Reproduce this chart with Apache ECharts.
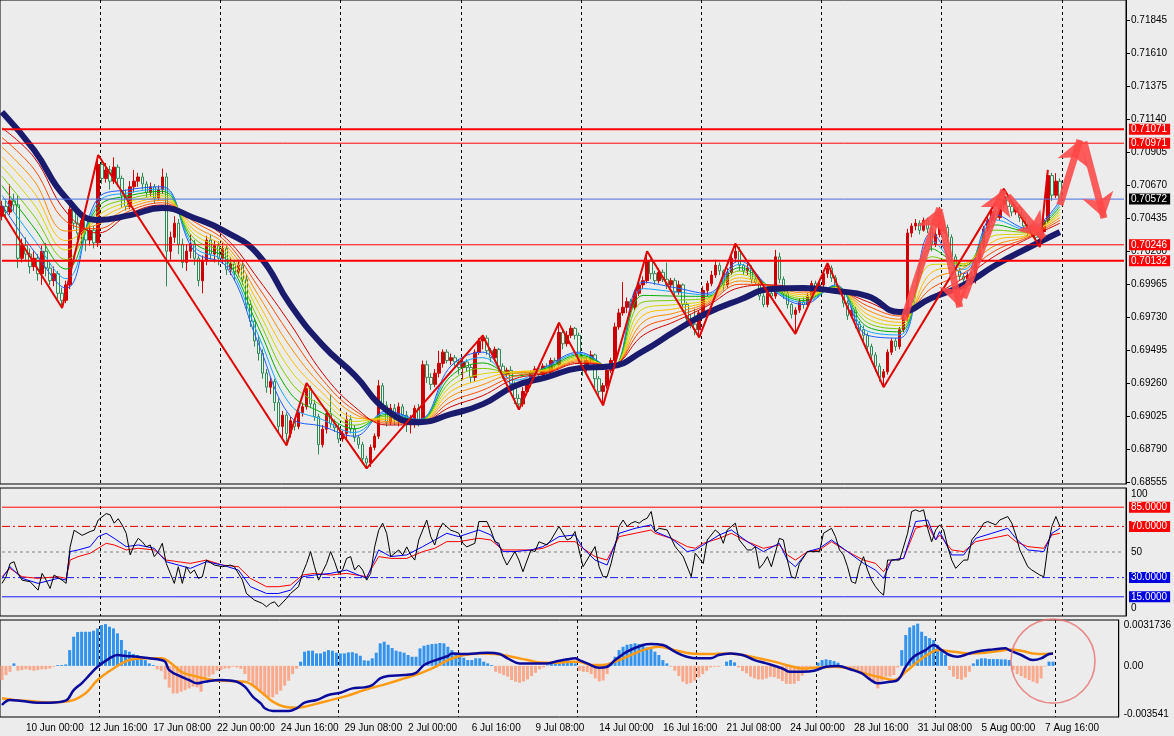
<!DOCTYPE html>
<html>
<head>
<meta charset="utf-8">
<script src="https://cdn.jsdelivr.net/npm/echarts@6.0.0/dist/echarts.min.js"></script>
</head>
<body style="margin:0;background:#ececec">
<div id="container" style="width:1174px;height:736px"></div>
<script>
// prices in points (1 point = 0.00001), candle rows are [open, close, low, high]
var candles = [
[70450,70520,70420,70560],[70520,70480,70440,70570],[70480,70560,70460,70680],[70560,70530,70490,70610],
[70530,70150,70080,70600],[70150,70240,70120,70290],[70240,70180,70130,70300],[70180,70090,70040,70220],
[70090,70150,70060,70200],[70150,70040,69990,70180],[70040,70200,69960,70240],[70200,70080,70020,70260],
[70080,69990,69960,70120],[69990,70040,69950,70090],[70040,69900,69860,70060],[69900,69850,69795,69940],
[69850,69960,69830,69990],[69960,70500,69930,70540],[70500,70400,70360,70540],[70400,70330,70280,70450],
[70330,70420,70250,70460],[70420,70280,70200,70440],[70280,70350,70240,70390],[70350,70260,70220,70380],
[70260,70820,70230,70887],[70820,70720,70680,70860],[70720,70780,70690,70830],[70780,70700,70640,70810],
[70700,70800,70680,70870],[70800,70720,70660,70820],[70720,70600,70510,70740],[70600,70520,70490,70640],
[70520,70660,70500,70700],[70660,70700,70620,70780],[70700,70730,70660,70760],[70730,70680,70640,70760],
[70680,70620,70580,70700],[70620,70660,70590,70690],[70660,70580,70540,70680],[70580,70640,70560,70670],
[70640,70730,70610,70790],[70730,70200,69950,70760],[70200,70300,70140,70340],[70300,70400,70260,70450],
[70400,70250,70180,70430],[70250,70120,70080,70290],[70120,70200,70060,70250],[70200,70250,70150,70320],
[70250,70150,70100,70280],[70150,69990,69950,70170],[69990,70130,69900,70170],[70130,70280,70100,70310],
[70280,70180,70140,70320],[70180,70240,70120,70280],[70240,70150,70100,70270],[70150,70220,70110,70260],
[70220,70070,70030,70240],[70070,70110,70030,70160],[70110,70050,69990,70140],[70050,70100,70020,70140],
[70100,70000,69960,70130],[70000,69820,69780,70030],[69820,69700,69660,69850],[69700,69560,69520,69720],
[69560,69470,69420,69600],[69470,69330,69290,69500],[69330,69230,69190,69360],[69230,69270,69180,69300],
[69270,69120,69060,69290],[69120,68950,68900,69150],[68950,69030,68860,69060],[69030,68900,68815,69050],
[68900,68990,68870,69020],[68990,68950,68920,69010],[68950,69050,68930,69070],[69050,69090,69020,69120],
[69090,69220,69070,69260],[69220,69110,69080,69240],[69110,69020,68990,69140],[69020,68820,68750,69040],
[68820,68930,68800,68960],[68930,69040,68900,69070],[69040,68970,68940,69180],[68970,68940,68910,69000],
[68940,68860,68830,68970],[68860,68900,68840,68920],[68900,69000,68850,69050],[69000,68930,68900,69030],
[68930,68870,68840,68960],[68870,68820,68790,68890],[68820,68720,68680,68840],[68720,68690,68650,68740],
[68690,68800,68660,68820],[68800,68880,68780,68900],[68880,69240,68860,69280],[69240,69100,69070,69260],
[69100,68980,68950,69130],[68980,69080,68960,69110],[69080,69000,68960,69110],[69000,69090,68950,69120],
[69090,69030,68990,69110],[69030,68960,68910,69060],[68960,68990,68900,69030],[68990,69080,68940,69100],
[69080,69000,68950,69110],[69000,69390,68960,69420],[69390,69300,69260,69420],[69300,69250,69210,69330],
[69250,69330,69230,69360],[69330,69400,69300,69490],[69400,69480,69370,69500],[69480,69420,69400,69500],
[69420,69440,69390,69470],[69440,69410,69380,69460],[69410,69370,69320,69430],[69370,69410,69280,69440],
[69410,69370,69340,69430],[69370,69300,69260,69390],[69300,69480,69270,69500],[69480,69560,69460,69580],
[69560,69580,69500,69600],[69580,69490,69460,69600],[69490,69440,69410,69510],[69440,69500,69420,69520],
[69500,69380,69340,69510],[69380,69320,69290,69400],[69320,69350,69300,69370],[69350,69250,69220,69380],
[69250,69150,69110,69270],[69150,69110,69070,69180],[69110,69200,69090,69230],[69200,69260,69170,69290],
[69260,69330,69230,69350],[69330,69360,69310,69380],[69360,69320,69300,69380],[69320,69380,69300,69400],
[69380,69340,69310,69400],[69340,69420,69320,69440],[69420,69390,69360,69440],[69390,69620,69370,69690],
[69620,69540,69500,69640],[69540,69600,69520,69630],[69600,69650,69580,69670],[69650,69600,69570,69660],
[69600,69440,69400,69620],[69440,69360,69310,69460],[69360,69420,69340,69450],[69420,69460,69400,69490],
[69460,69290,69220,69470],[69290,69200,69170,69310],[69200,69240,69100,69260],[69240,69350,69220,69380],
[69350,69420,69330,69440],[69420,69660,69380,69690],[69660,69760,69640,69790],[69760,69800,69740,69980],
[69800,69840,69760,69870],[69840,69800,69780,69860],[69800,69900,69780,69920],[69900,69960,69880,69990],
[69960,69990,69930,70020],[69990,70130,69970,70200],[70130,70040,70000,70150],[70040,69990,69960,70060],
[69990,70050,69970,70080],[70050,70000,69980,70070],[70000,69960,69930,70120],[69960,69990,69940,70010],
[69990,69910,69880,70010],[69910,69960,69890,69990],[69960,69820,69780,69970],[69820,69720,69690,69840],
[69720,69680,69650,69750],[69680,69640,69600,69790],[69640,69760,69585,69780],[69760,69920,69740,69950],
[69920,69970,69880,69990],[69970,70030,69950,70060],[70030,70100,70010,70140],[70100,70060,70030,70120],
[70060,69960,69920,70070],[69960,70050,69940,70080],[70050,70150,70030,70170],[70150,70200,70120,70255],
[70200,70100,70060,70230],[70100,70060,70030,70110],[70060,70080,70030,70110],[70080,70000,69970,70100],
[70000,69980,69960,70020],[69980,69880,69850,70000],[69880,69820,69800,69900],[69820,69900,69800,69920],
[69900,69880,69860,69920],[69880,70160,69860,70210],[70160,70000,69970,70190],[70000,69900,69860,70020],
[69900,69820,69790,69920],[69820,69750,69720,69830],[69750,69780,69610,69800],[69780,69840,69760,69860],
[69840,69820,69790,69870],[69820,69880,69800,69900],[69880,69970,69860,69990],[69970,69930,69900,69990],
[69930,69960,69920,69980],[69960,70040,69940,70060],[70040,70080,70010,70115],[70080,70010,69980,70100],
[70010,69930,69900,70030],[69930,69910,69890,69950],[69910,69830,69800,69930],[69830,69740,69710,69850],
[69740,69780,69720,69800],[69780,69680,69650,69800],[69680,69640,69610,69700],[69640,69600,69560,69670],
[69600,69520,69480,69620],[69520,69460,69430,69540],[69460,69380,69340,69480],[69380,69300,69270,69400],
[69300,69340,69230,69360],[69340,69480,69320,69500],[69480,69560,69460,69580],[69560,69520,69490,69580],
[69520,69640,69500,69660],[69640,69730,69620,69760],[69730,70330,69700,70360],[70330,70380,70300,70400],
[70380,70400,70350,70430],[70400,70350,70320,70420],[70350,70420,70340,70440],[70420,70360,70330,70440],
[70360,70250,70200,70380],[70250,70320,70230,70350],[70320,70420,70300,70515],[70420,70370,70340,70450],
[70370,70300,70270,70390],[70300,70160,70130,70320],[70160,70060,70030,70180],[70060,70020,69990,70080],
[70020,70000,69980,70040],[70000,70030,69990,70050],[70030,69990,69960,70050],[69990,70140,69970,70160],
[70140,70240,70120,70260],[70240,70360,70220,70380],[70360,70420,70340,70450],[70420,70480,70400,70500],
[70480,70440,70420,70500],[70440,70530,70420,70560],[70530,70590,70510,70645],[70590,70520,70490,70610],
[70520,70480,70450,70540],[70480,70510,70460,70530],[70510,70440,70410,70530],[70440,70380,70350,70460],
[70380,70340,70310,70400],[70340,70360,70310,70380],[70360,70300,70270,70380],[70300,70340,70230,70360],
[70340,70420,70320,70440],[70420,70740,70400,70780],[70740,70600,70560,70760],[70600,70700,70580,70757],
[70700,70572,70550,70720]
];

// moving-average ribbon read every 8 bars: [bar, fastest ... slowest]
var ribbon = [
[0,70530,70599,70668,70736,70805,70874,70943,71011,71080],
[8,70200,70284,70368,70451,70535,70619,70703,70786,70870],
[16,69937,70005,70073,70141,70209,70276,70344,70412,70480],
[24,70580,70549,70518,70486,70455,70424,70393,70361,70330],
[32,70640,70619,70598,70576,70555,70534,70513,70491,70470],
[40,70660,70644,70628,70611,70595,70579,70563,70546,70530],
[48,70200,70230,70260,70290,70320,70350,70380,70410,70440],
[56,70090,70115,70140,70165,70190,70215,70240,70265,70290],
[64,69540,69598,69655,69713,69770,69828,69885,69943,70000],
[72,69020,69103,69185,69268,69350,69433,69515,69598,69680],
[80,68950,68998,69045,69093,69140,69188,69235,69283,69330],
[88,68880,68906,68933,68959,68985,69011,69038,69064,69090],
[96,69060,69048,69035,69023,69010,68998,68985,68973,68960],
[104,69000,68996,68993,68989,68985,68981,68978,68974,68970],
[112,69380,69344,69308,69271,69235,69199,69163,69126,69090],
[120,69480,69441,69403,69364,69325,69286,69248,69209,69170],
[128,69250,69280,69310,69330,69340,69340,69330,69310,69290],
[136,69380,69374,69368,69361,69355,69349,69343,69336,69330],
[144,69480,69470,69460,69450,69440,69430,69420,69410,69400],
[152,69360,69364,69368,69371,69375,69379,69383,69386,69390],
[160,69980,69933,69885,69838,69790,69743,69695,69648,69600],
[168,69940,69910,69880,69850,69820,69790,69760,69730,69700],
[176,69900,69889,69878,69866,69855,69844,69833,69821,69810],
[184,70130,70106,70083,70059,70035,70011,69988,69964,69940],
[192,69930,69934,69938,69941,69945,69949,69953,69956,69960],
[200,69820,69834,69848,69861,69875,69889,69903,69916,69930],
[208,69960,69955,69950,69945,69940,69935,69930,69925,69920],
[216,69600,69630,69660,69690,69720,69750,69780,69810,69840],
[224,69580,69603,69625,69648,69670,69693,69715,69738,69760],
[232,70330,70274,70218,70161,70105,70049,69993,69936,69880],
[240,70040,70070,70095,70110,70110,70100,70080,70045,70010],
[248,70460,70424,70388,70351,70315,70279,70243,70206,70170],
[256,70360,70351,70343,70334,70325,70316,70308,70299,70290],
[264,70560,70540,70520,70500,70480,70460,70440,70420,70400]
];

var slowMA = [[0,71194],[8,70922],[16,70580],[24,70423],[32,70458],[40,70508],[48,70437],[56,70337],
[64,70173],[72,69816],[80,69530],[88,69316],[96,69066],[104,68980],[112,69037],[120,69109],[128,69238],
[136,69302],[144,69366],[152,69380],[160,69488],[168,69630],[176,69759],[184,69852],[192,69930],
[200,69937],[208,69916],[216,69880],[224,69766],[232,69866],[240,69959],[248,70102],[256,70223],[264,70337]];

var zigzag = [[0,70480],[15,69795],[24,70887],[71,68815],[76,69260],[91,68650],[120,69600],[129,69070],
[139,69690],[150,69100],[161,70200],[174,69585],[183,70255],[198,69610],[206,70115],[220,69230],
[250,70645],[259,70230],[261,70780]];

// hand-drawn forecast arrows: [from bar, from price, to bar, to price]
var arrows = [[225,69709,234,70508],[234,70478,239,69800],[240,69866,250,70637],
[251,70594,260,70295],[264,70530,269,70994],[270,70980,275,70437]];

// horizontal price lines: [price, width, colour, label box]
var levels = [[71071, 2, '#ff0000', '#ff0000'], [70971, 1, '#ff0000', '#ff0000'], [70572, 1, '#4a6ee0', '#000000'],
[70246, 1, '#ff0000', '#ff0000'], [70132, 2, '#ff0000', '#ff0000']];
var priceTicks = [68555,68790,69025,69260,69495,69730,69965,70200,70435,70670,70905,71140,71375,71610,71845];
var xTickLabels = ['10 Jun 00:00','12 Jun 16:00','17 Jun 08:00','22 Jun 00:00','24 Jun 16:00','29 Jun 08:00',
'2 Jul 00:00','6 Jul 16:00','9 Jul 08:00','14 Jul 00:00','16 Jul 16:00','21 Jul 08:00','24 Jul 00:00',
'28 Jul 16:00','31 Jul 08:00','5 Aug 00:00','7 Aug 16:00'];

// oscillator panel
var oscFast = [[0,25.5],[1,30.7],[2,41],[3,42.4],[4,33.3],[5,28],[7,26.8],[9,20.2],[10,33.3],[11,28],[12,21.5],
[13,32],[15,28],[16,25.5],[17,54],[18,67],[20,63],[22,66],[23,67],[24,75],[26,80],[27,79],[28,72.5],[29,76],
[30,71],[31,64.6],[32,47.7],[33,55.5],[34,60.7],[35,58],[36,54],[37,55.5],[38,46.4],[39,50.3],[40,56.8],
[41,41],[42,33.3],[43,25.5],[44,38.5],[45,25.5],[46,38.5],[47,33.3],[48,35.9],[49,29.4],[50,30.7],[51,43.7],
[53,39.8],[55,38.5],[57,39.8],[58,38.5],[60,28],[61,17.6],[63,12.4],[65,9.8],[66,7.2],[67,9.8],[68,11.1],
[69,7.2],[71,13.7],[72,17.6],[74,22.9],[75,33.3],[76,41],[77,50.3],[78,38.5],[79,28],[80,34.6],[81,41],
[82,50.3],[83,42.4],[84,33.3],[85,35.9],[86,45],[87,46.4],[88,35.9],[89,39.8],[90,35.9],[91,28],[92,33.3],
[93,54],[94,67],[95,72.5],[96,64.6],[97,46.4],[99,51.6],[100,47.7],[101,54],[102,47.7],[103,43.7],[104,59.4],
[106,75],[107,62],[108,55.5],[109,67],[110,72.5],[112,67],[113,66],[114,64.6],[115,56.8],[116,54],[118,56.8],
[119,73.8],[121,73.8],[122,67],[123,58],[124,56.8],[125,46.4],[126,39.8],[128,50.3],[129,43.7],[130,34.6],
[132,51.6],[133,50.3],[134,58],[136,55.5],[137,59.4],[139,70],[141,59.4],[142,60.7],[143,66],[144,51.6],
[145,38.5],[147,49],[148,54.2],[149,38.5],[150,30.7],[151,30.7],[152,41],[153,54.2],[154,70],[155,75],
[156,70],[157,72.5],[158,73.8],[159,72.5],[160,75],[161,76.4],[162,81.6],[163,66],[164,68.5],[166,67.2],
[167,60.7],[168,54.2],[170,46.4],[172,30.7],[173,49],[174,45],[175,41],[176,59.4],[178,67.2],[179,64.6],
[180,56.8],[181,67.2],[183,72.5],[184,59.4],[186,51.6],[187,51.6],[188,54.2],[189,37.2],[190,41],[191,46.4],
[192,38.5],[194,60.7],[195,59.4],[196,43.7],[197,30.7],[198,29.4],[199,41],[201,50.3],[202,50.3],[204,50.3],
[205,64.6],[207,68.5],[208,62],[209,51.6],[210,47.7],[211,38.5],[212,26.8],[213,25.5],[214,38.5],[215,46.4],
[216,35.9],[217,28],[218,22.9],[219,19],[220,16.3],[221,43.7],[223,43.7],[224,43.7],[226,64.6],[227,81.6],
[228,82.9],[229,81.6],[230,82.9],[231,68.5],[232,58],[233,67.2],[234,71.2],[235,67.2],[236,54.2],[237,43.7],
[238,37.2],[240,43.7],[241,43.7],[242,59.4],[244,67.2],[245,72.5],[246,73.8],[248,71.2],[249,75],[251,77.7],
[252,72.5],[253,63.3],[254,51.6],[256,38.5],[257,35.9],[259,32],[260,30.7],[261,54.2],[262,70],[263,77.7],
[264,70]];
var oscMid = [[0,29.4],[2,38.5],[5,29.4],[9,25.5],[14,29.4],[16,28.1],[17,50.3],[19,51.6],[22,54.2],[24,62],
[26,64.6],[28,60.7],[31,54.2],[34,55.5],[38,52.9],[41,42.4],[44,39.8],[47,37.2],[51,42.4],[55,39.8],[59,35.9],
[62,22.9],[66,17.6],[69,17.6],[72,20.2],[75,30.7],[78,32],[82,33.3],[86,35.9],[91,29.4],[94,51.6],[97,46.4],
[101,47.7],[105,54.2],[108,59.4],[111,64.6],[114,62],[119,67.2],[122,63.3],[125,50.3],[128,50.3],[132,51.6],
[135,54.2],[139,62],[143,63.3],[145,52.9],[148,43.7],[151,39.8],[154,64.6],[158,68.5],[162,71.2],[163,66],
[167,60.7],[171,50.3],[173,51.6],[175,55.5],[179,63.3],[182,67.2],[186,58.1],[190,50.3],[194,56.8],[196,43.7],
[198,38.5],[201,50.3],[204,52.9],[207,59.4],[211,50.3],[215,41.1],[218,35.9],[220,29.4],[222,43.7],[225,45],
[228,73.8],[231,75],[233,59.4],[234,66],[237,47.7],[240,47.7],[243,60.7],[247,64.6],[251,68.5],[253,60.7],
[256,51.6],[260,50.3],[262,64.6],[264,68.5]];
var oscSlow = [[0,30.7],[2,37.2],[5,30.7],[9,29.4],[14,30.7],[16,29.4],[17,43.7],[19,46.4],[22,49],[24,52.9],
[26,56.8],[28,55.5],[31,51.6],[34,52.9],[38,51.6],[41,43.7],[44,42.4],[47,41.1],[51,43.7],[55,39.8],[59,38.5],
[62,29.4],[66,22.9],[69,22.9],[72,24.2],[75,32],[78,33.3],[82,32],[86,33.3],[91,30.7],[94,46.4],[97,45],
[101,45],[105,50.3],[108,52.9],[111,58.1],[114,58.1],[119,60.7],[122,59.4],[125,51.6],[128,51.6],[132,51.6],
[135,52.9],[139,58.1],[143,58.1],[145,52.9],[148,46.4],[151,43.7],[154,62],[158,64.6],[162,67.2],[163,64.6],
[167,60.7],[171,54.2],[173,52.9],[175,56.8],[179,60.7],[182,64.6],[186,58.1],[190,52.9],[194,55.5],[196,47.7],
[198,43.7],[201,50.3],[204,51.6],[207,58.1],[211,50.3],[215,43.7],[218,41.1],[220,34.6],[222,43.7],[225,45],
[228,68.5],[231,71.2],[233,59.4],[234,63.3],[237,51.6],[240,50.3],[243,58.1],[247,60.7],[251,63.3],[253,58.1],
[256,54.2],[260,52.9],[262,63.3],[264,64.6]];
// oscillator levels: [value, colour, dash, label box]
var oscLevels = [[85, '#ff0000', 'solid', '#ff0000'], [70, '#e00000', [8, 3, 2, 3], '#ff0000'],
[50, '#808080', [3, 3], null], [30, '#1a1aff', [8, 3, 2, 3], '#0000e0'], [15, '#1a1aff', 'solid', '#0000e0']];
var oscTickText = ['100', '50', '0'];

// MACD panel, values in 0.00001
var histogram = [-99,-64,-41,17,-34,-29,-24,-29,-34,-29,-24,-24,-18,-6,6,6,10,109,202,234,236,236,236,243,
259,282,289,271,259,225,179,109,98,82,75,56,40,17,6,-24,-36,-94,-151,-191,-191,-179,-168,-156,-144,-149,
-179,-87,-75,-59,-34,-29,-18,-18,-6,-11,-20,-57,-105,-140,-163,-186,-209,-220,-218,-197,-172,-137,-103,-57,
-20,29,98,105,105,86,86,98,109,105,91,86,86,93,95,86,70,38,36,52,91,156,167,146,123,105,98,91,75,63,63,
121,139,146,151,153,158,156,132,109,91,77,56,40,40,52,52,29,17,6,-41,-52,-64,-75,-98,-110,-117,-108,-94,
-71,-48,-24,-11,3,17,29,36,40,40,29,17,-34,-41,-43,-57,-87,-108,-101,-57,17,63,109,132,146,151,156,151,
139,128,116,98,75,40,17,-6,-34,-71,-110,-126,-119,-103,-80,-57,-34,-11,-6,-6,-1,29,40,24,-11,-36,-52,-75,
-87,-94,-94,-87,-75,-78,-89,-105,-124,-126,-124,-105,-68,-34,-18,-6,22,40,45,40,33,22,3,-20,-29,-34,-45,
-57,-68,-87,-114,-156,-103,-75,-75,-64,-11,109,213,266,280,292,236,206,192,179,146,109,75,-29,-75,-91,-96,
-80,-41,17,45,52,52,47,47,47,45,45,40,-29,-57,-71,-85,-98,-110,-121,-87,-6,29,29];
var macdMain = [[0,-271],[2,-236],[5,-244],[9,-255],[12,-255],[16,-241],[18,-168],[20,-121],[22,-63],[24,-6],
[27,52],[29,75],[31,68],[34,63],[37,52],[40,40],[41,29],[42,-29],[45,-75],[47,-98],[49,-121],[51,-110],[55,-98],
[59,-110],[61,-144],[63,-213],[65,-260],[66,-294],[68,-313],[72,-313],[74,-294],[76,-255],[79,-236],[82,-202],
[85,-186],[88,-156],[91,-149],[93,-133],[95,-87],[97,-71],[101,-64],[104,-48],[106,6],[109,40],[112,68],
[113,86],[116,82],[119,86],[122,91],[125,82],[127,52],[130,17],[134,17],[137,17],[139,29],[142,45],[144,52],
[145,40],[147,17],[150,-13],[152,-6],[154,40],[157,98],[161,144],[163,151],[166,144],[169,98],[172,63],[175,52],
[178,52],[180,75],[183,86],[186,75],[189,40],[192,17],[196,-18],[198,-41],[201,-41],[204,-34],[207,-6],[210,-1],
[213,-24],[216,-52],[218,-94],[220,-121],[223,-110],[225,-98],[227,-6],[229,63],[232,109],[234,144],[236,109],
[238,75],[240,63],[243,86],[246,105],[249,114],[252,121],[253,109],[256,75],[259,40],[261,52],[263,82],[264,86]];
var macdSignal = [[0,-225],[3,-236],[7,-244],[12,-253],[17,-244],[21,-190],[24,-98],[28,-18],[32,40],[36,52],
[40,52],[43,6],[45,-41],[49,-75],[53,-98],[57,-105],[61,-110],[65,-179],[68,-248],[71,-283],[74,-290],[76,-283],
[81,-248],[86,-213],[91,-168],[97,-121],[101,-87],[105,-52],[109,-6],[112,40],[116,75],[120,86],[124,82],
[128,63],[132,40],[135,24],[139,22],[143,29],[145,29],[148,6],[151,6],[154,29],[157,63],[161,109],[165,132],
[169,109],[173,86],[178,82],[182,86],[186,75],[190,52],[194,29],[198,-1],[201,-18],[205,-11],[209,-6],[213,-18],
[216,-48],[220,-75],[224,-98],[227,-41],[230,29],[233,86],[235,109],[239,98],[243,86],[247,91],[251,105],
[253,114],[256,105],[259,86],[262,82],[264,86]];
var macdTickText = ['0.0031736', '0.00', '-0.003541'];
var circleMark = [[264, 33]];

var slots = [];
for (var i = 0; i < 281; i++) slots.push(String(i));
var lastSlot = slots.length - 1;

var font = 'Liberation Sans';
var dashV = { show: true, interval: function (idx) { return idx % 30 === 25; },
  lineStyle: { color: '#000', type: [3, 3], width: 1 } };

function xAxisFor(g, labels) {
  return {
    type: 'category', gridIndex: g, data: slots, boundaryGap: true,
    axisLine: { show: false }, axisTick: { show: false }, splitLine: dashV,
    axisLabel: labels ? {
      show: true, align: 'left', margin: 6, color: '#000', fontSize: 10, fontFamily: font,
      interval: function (idx) { return idx >= 6 && (idx - 6) % 16 === 0 && idx <= 262; },
      formatter: function (v, idx) { return xTickLabels[(idx - 6) / 16]; }
    } : { show: false }
  };
}

// a full-width horizontal level drawn as a two-point line with a value box at its right end
function levelSeries(ax, value, width, color, dash, box, fmt) {
  return {
    type: 'line', xAxisIndex: ax, yAxisIndex: ax, z: 4, silent: true, showSymbol: false,
    data: [[0, value], [lastSlot, value]],
    lineStyle: { color: color, width: width, type: dash },
    endLabel: box ? {
      show: true, distance: 5, color: '#fff', backgroundColor: box, fontSize: 10, fontFamily: font,
      padding: [1, 3, 0, 2], formatter: function () { return fmt(value); }
    } : { show: false }
  };
}

var ribbonColors = ['#1c5cff', '#12a6ff', '#00b000', '#78cc00', '#d6d600', '#ffc000', '#ff8c00', '#ff4a00', '#d00000'];

var series = [];
series.push({
  type: 'candlestick', xAxisIndex: 0, yAxisIndex: 0, data: candles, barWidth: 3, z: 1,
  itemStyle: { color: '#cc0000', borderColor: '#cc0000', color0: '#eef4ee', borderColor0: '#2e8b57', borderWidth: 1 }
});
ribbonColors.forEach(function (c, k) {
  series.push({
    type: 'line', xAxisIndex: 0, yAxisIndex: 0, z: 2, smooth: 0.4, showSymbol: false,
    data: ribbon.map(function (r) { return [r[0], r[k + 1]]; }),
    lineStyle: { color: c, width: 1 }
  });
});
series.push({
  type: 'line', xAxisIndex: 0, yAxisIndex: 0, z: 3, smooth: 0.5, showSymbol: false, data: slowMA,
  lineStyle: { color: '#1b1b6e', width: 6 }
});
series.push({
  type: 'line', xAxisIndex: 0, yAxisIndex: 0, z: 4, showSymbol: false, data: zigzag,
  lineStyle: { color: '#e00000', width: 2 },
  markLine: {
    silent: true, animation: false, symbol: ['none', 'arrow'], symbolSize: 24,
    label: { show: false },
    lineStyle: { color: 'rgba(255,72,72,0.88)', width: 7, type: 'solid' },
    data: arrows.map(function (a) { return [{ coord: [a[0], a[1]] }, { coord: [a[2], a[3]] }]; })
  }
});
levels.forEach(function (l) {
  series.push(levelSeries(0, l[0], l[1], l[2], 'solid', l[3], function (v) { return (v / 1e5).toFixed(5); }));
});

oscLevels.forEach(function (l) {
  series.push(levelSeries(1, l[0], 1, l[1], l[2], l[3], function (v) { return v.toFixed(4); }));
});
series.push({ type: 'line', xAxisIndex: 1, yAxisIndex: 1, showSymbol: false, data: oscSlow, z: 5, lineStyle: { color: '#ff0000', width: 1 } });
series.push({ type: 'line', xAxisIndex: 1, yAxisIndex: 1, showSymbol: false, data: oscMid, z: 6, lineStyle: { color: '#0000ff', width: 1 } });
series.push({ type: 'line', xAxisIndex: 1, yAxisIndex: 1, showSymbol: false, data: oscFast, z: 7, lineStyle: { color: '#000', width: 1 } });

series.push({
  type: 'bar', xAxisIndex: 2, yAxisIndex: 2, data: histogram, barCategoryGap: '25%', z: 1,
  itemStyle: { color: function (p) { return p.value >= 0 ? '#3293ee' : '#f9a98c'; } }
});
series.push({ type: 'line', xAxisIndex: 2, yAxisIndex: 2, smooth: 0.4, showSymbol: false, data: macdSignal, z: 2, lineStyle: { color: '#ff9a14', width: 2.5 } });
series.push({ type: 'line', xAxisIndex: 2, yAxisIndex: 2, smooth: 0.4, showSymbol: false, data: macdMain, z: 3, lineStyle: { color: '#0a0a9c', width: 2.5 } });
series.push({
  type: 'scatter', xAxisIndex: 2, yAxisIndex: 2, data: circleMark, symbolSize: 84, clip: false, z: 5, silent: true,
  itemStyle: { color: 'rgba(0,0,0,0)', borderColor: '#e87272', borderWidth: 1.6 }
});

var axisLbl = { color: '#000', fontSize: 10, fontFamily: font, margin: 5 };
var option = {
  animation: false,
  backgroundColor: '#ececec',
  textStyle: { fontFamily: font },
  grid: [
    { left: 0, top: 0, width: 1126, height: 484, show: true, borderColor: '#000', borderWidth: 1 },
    { left: 0, top: 488, width: 1126, height: 128, show: true, borderColor: '#000', borderWidth: 1 },
    { left: 0, top: 620, width: 1126, height: 97, show: true, borderColor: '#000', borderWidth: 1 }
  ],
  xAxis: [xAxisFor(0, false), xAxisFor(1, false), xAxisFor(2, true)],
  yAxis: [
    {
      gridIndex: 0, type: 'value', position: 'right', min: 68539, max: 71993, scale: true,
      splitLine: { show: false },
      axisLine: { show: true, lineStyle: { color: '#000' } },
      axisTick: { show: true, length: 4, customValues: priceTicks, lineStyle: { color: '#000' } },
      axisLabel: Object.assign({ customValues: priceTicks, formatter: function (v) { return (v / 1e5).toFixed(5); } }, axisLbl)
    },
    {
      gridIndex: 1, type: 'value', position: 'right', min: 0, max: 100,
      splitLine: { show: false },
      axisLine: { show: true, lineStyle: { color: '#000' } },
      axisTick: { show: false },
      axisLabel: Object.assign({ customValues: [95.3, 50, 6.3],
        formatter: function (v) { return v > 90 ? oscTickText[0] : (v < 10 ? oscTickText[2] : oscTickText[1]); } }, axisLbl)
    },
    {
      gridIndex: 2, type: 'value', position: 'right', min: -354.1, max: 317.36,
      splitLine: { show: false },
      axisLine: { show: true, lineStyle: { color: '#000' } },
      axisTick: { show: false },
      axisLabel: Object.assign({ customValues: [282, 0, -333],
        formatter: function (v) { return v > 0 ? macdTickText[0] : (v < 0 ? macdTickText[2] : macdTickText[1]); } }, axisLbl)
    }
  ],
  series: series
};

var myChart = echarts.init(document.getElementById('container'));
myChart.setOption(option);
</script>
</body>
</html>
